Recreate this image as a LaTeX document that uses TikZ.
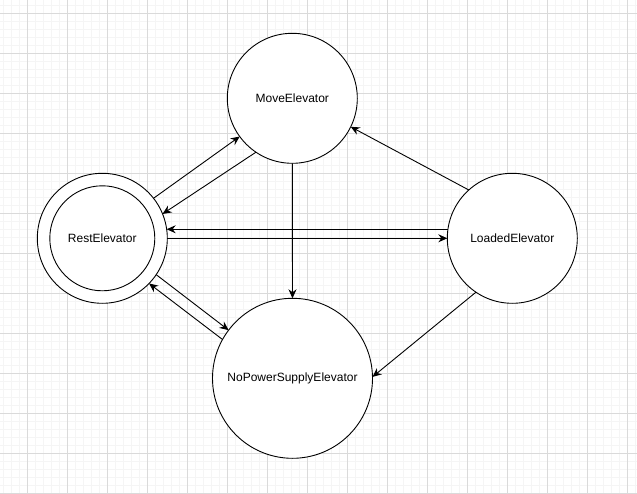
\documentclass[tikz,border=0pt]{standalone}
\usepackage{fontspec}
\setmainfont{Liberation Sans}
\usetikzlibrary{arrows.meta}
\definecolor{gmajor}{RGB}{218,218,218}
\definecolor{gminor}{RGB}{245,245,245}
\begin{document}
\begin{tikzpicture}[x=1pt,y=-1pt,
  state/.style={circle,draw=black,line width=0.9pt,fill=white,inner sep=0pt,outer sep=0pt,font=\fontsize{12}{14}\selectfont},
  conn/.style={line width=0.9pt,-{Stealth[length=9pt,width=8pt,inset=3pt]}},
  minorline/.style={gminor,line width=0.8pt},
  majorline/.style={gmajor,line width=0.8pt}]
\useasboundingbox (0,0) rectangle (637,494);
\fill[white] (0,0) rectangle (637,494);
% grid
\foreach \k in {0,...,79} {\draw[minorline] ({3.3+8*\k},0) -- ({3.3+8*\k},494);}
\foreach \k in {0,...,61} {\draw[minorline] (0,{5.3+8*\k}) -- (637,{5.3+8*\k});}
\foreach \k in {0,...,15} {\draw[majorline] ({27.3+40*\k},0) -- ({27.3+40*\k},494);}
\foreach \k in {0,...,12} {\draw[majorline] (0,{13.3+40*\k}) -- (637,{13.3+40*\k});}
% states
\node[state,minimum size=130pt] (move) at (292.3,98.3) {MoveElevator};
\node[state,minimum size=130pt] (rest) at (102.3,238.3) {};
\node[state,minimum size=105pt] (restin) at (102.3,238.3) {RestElevator};
\node[state,minimum size=130pt] (loaded) at (512.3,238.3) {LoadedElevator};
\node[state,minimum size=160pt] (nops) at (292.5,378.3) {NoPowerSupplyElevator};
% connectors
\draw[conn] (rest.38) -- (move.216);
\draw[conn] (move.236) -- (rest.22.5);
\draw[conn] (loaded.172) -- (rest.8);
\draw[conn] (rest.0) -- (loaded.180);
\draw[conn] (rest.-34.7) -- (nops.143.5);
\draw[conn] (nops.151.6) -- (rest.-44.6);
\draw[conn] (move.270) -- (nops.90);
\draw[conn] (loaded.132.6) -- (move.-26.5);
\draw[conn] (loaded.236.3) -- (nops.1);
\end{tikzpicture}
\end{document}
